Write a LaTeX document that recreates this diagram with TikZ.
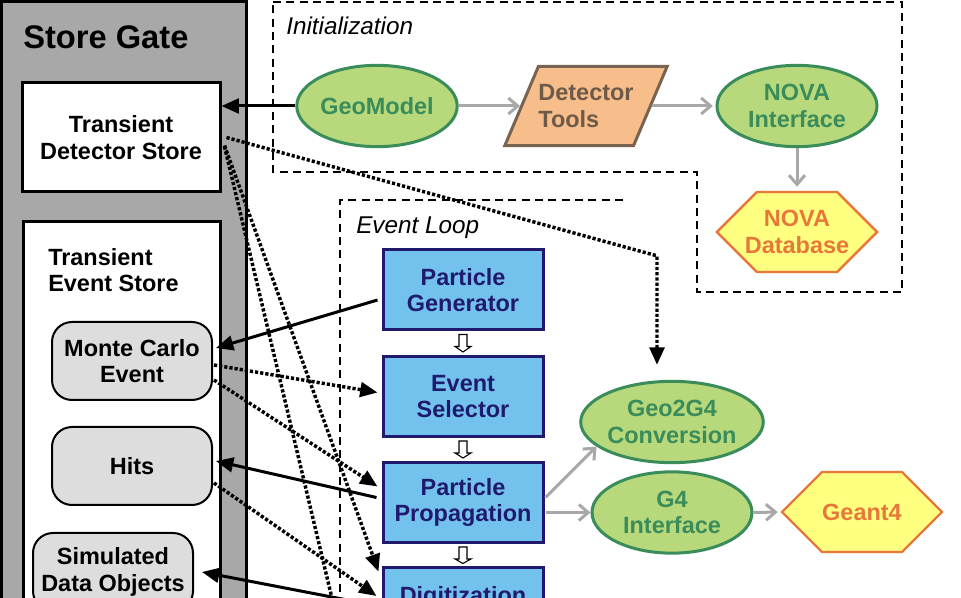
\documentclass[tikz,border=0pt]{standalone}
\usepackage{fontspec}
\setmainfont{Liberation Sans}
\usetikzlibrary{arrows.meta,calc,shapes.geometric,shapes.symbols}

\definecolor{bandgray}{RGB}{168,168,168}
\definecolor{itemgray}{RGB}{221,221,221}
\definecolor{skyblue}{RGB}{115,194,238}
\definecolor{navy}{RGB}{32,26,110}
\definecolor{leaf}{RGB}{183,217,123}
\definecolor{leafline}{RGB}{58,140,90}
\definecolor{peach}{RGB}{247,190,140}
\definecolor{toolline}{RGB}{120,100,80}
\definecolor{tooltext}{RGB}{110,90,72}
\definecolor{lemon}{RGB}{255,255,128}
\definecolor{amber}{RGB}{232,120,58}
\definecolor{flowgray}{RGB}{168,168,168}

\def\boxfont{\fontsize{17.6}{20}\selectfont\bfseries}
\def\titlefont{\fontsize{24.5}{28}\selectfont\bfseries}
\def\regionfont{\fontsize{18.2}{21}\selectfont\itshape}

% hollow block arrow between two stacked boxes
\newcommand{\hollowarrow}[2]{%
  \draw[line width=0.8pt, fill=white] ($(#1.south)+(-4,3)$) -- ++(0,12) -- ++(-4,0)
    -- ($(#2.north)+(0,-3)$) -- ($(#1.south)+(8,15)$) -- ++(-4,0) -- ++(0,-12) -- cycle;}

\begin{document}
\begin{tikzpicture}[x=0.75pt,y=0.75pt,yscale=-1,xscale=1,
  storebox/.style={draw=black, line width=2.25pt, fill=white, minimum width=148.5pt, minimum height=81.75pt, align=center, font=\boxfont},
  itembox/.style={draw=black, line width=1.5pt, fill=itemgray, rounded corners=15pt, minimum width=120pt, minimum height=58.5pt, align=center, font=\boxfont},
  algobox/.style={draw=navy, line width=2.25pt, fill=skyblue, text=navy, minimum width=120pt, minimum height=60pt, align=center, font=\boxfont},
  geonode/.style={ellipse, draw=leafline, line width=2.25pt, fill=leaf, text=leafline, minimum width=120pt, minimum height=61pt, inner sep=0pt, align=center, font=\boxfont},
  toolnode/.style={trapezium, trapezium left angle=67, trapezium right angle=113, draw=toolline, line width=2.25pt, fill=peach, text=tooltext, inner xsep=0pt, inner ysep=13.5pt, align=left, font=\boxfont},
  extnode/.style={signal, signal to=west and east, signal pointer angle=90, draw=amber, line width=1.8pt, fill=lemon, text=amber, minimum width=120pt, minimum height=60pt, inner xsep=-9pt, inner ysep=0pt, align=center, font=\boxfont},
  regionline/.style={line width=1.8pt, dash pattern=on 6pt off 4pt},
  solidarrow/.style={line width=2.25pt, -{Triangle[length=13pt,width=11pt]}},
  dotarrow/.style={line width=2.6pt, dash pattern=on 2.4pt off 1.5pt, -{Triangle[length=13pt,width=11pt]}},
  grayarrow/.style={draw=flowgray, line width=2.25pt, -{Straight Barb[length=7pt,width=12pt]}}]
\useasboundingbox (0,0) rectangle (961,598);
\clip (0,0) rectangle (961,598);

% store gate
\draw[line width=2.25pt, fill=bandgray] (1.5,1.5) rectangle (246,650);
\node[anchor=north west, inner sep=0pt, font=\titlefont] (sgtitle) at (23,25) {Store Gate};
\node[storebox] (tds) at (121,137.5) {Transient\\Detector Store};
\draw[line width=2.25pt, fill=white] (23,222) rectangle (220,650);
\node[anchor=north west, inner sep=0pt, align=left, font=\boxfont] (teslabel) at (48,248) {Transient\\Event Store};
\node[itembox] (mce) at (132,361) {Monte Carlo\\Event};
\node[itembox] (hits) at (132,466) {Hits};
\node[itembox] (sdo) at (113,572) {Simulated\\Data Objects};

% initialization
\draw[regionline] (273,2) -- (902,2) -- (902,292) -- (697,292) -- (697,172) -- (273,172) -- cycle;
\node[anchor=north west, inner sep=0pt, font=\regionfont] (initlabel) at (286,17) {Initialization};
\node[geonode] (geo) at (377,106) {GeoModel};
\node[toolnode] (dt) at (586,106) {Detector\\Tools};
\node[geonode] (nova) at (797,106) {NOVA\\Interface};
\node[extnode] (novadb) at (797,232) {NOVA\\Database};

% event loop
\draw[regionline] (623,200) -- (340,200) -- (340,650);
\node[anchor=north west, inner sep=0pt, font=\regionfont] (looplabel) at (356,217) {Event Loop};
\node[algobox] (pg) at (463,290) {Particle\\Generator};
\node[algobox] (es) at (463,396.5) {Event\\Selector};
\node[algobox] (pp) at (463,502.5) {Particle\\Propagation};
\node[algobox] (dig) at (463,608) {Digitization\\\mbox{}};
\hollowarrow{pg}{es}
\hollowarrow{es}{pp}
\hollowarrow{pp}{dig}

% geant4 side
\node[geonode] (g2g) at (672,422) {Geo2G4\\Conversion};
\node[geonode] (g4i) at (672,512.5) {G4\\Interface};
\node[extnode] (geant) at (862,512) {Geant4};
\coordinate (below) at (340,632);

% gray flow
\draw[grayarrow] (geo.east) -- (dt.left side);
\draw[grayarrow, shorten >=2pt] (dt.right side) -- (nova.west);
\draw[grayarrow, shorten >=3pt] (nova.south) -- (novadb.north);
\draw[grayarrow] ($(pp.east)+(1,-5)$) -- (g2g.198);
\draw[grayarrow] ($(pp.east)+(1,10)$) -- (g4i.west);
\draw[grayarrow, shorten >=2pt] (g4i.east) -- (geant.west);

% store access
\draw[solidarrow] (geo.west) -- (geo.west -| tds.east);
\draw[dotarrow] ($(tds.east)+(5,0)$) -- ($(g2g.north)+(-15,-124)$) -- ($(g2g.north)+(-15,-15)$);
\draw[dotarrow] ($(tds.east)+(3,8)$) -- ($(dig.north west)+(-3,5)$);
\draw[dotarrow] ($(tds.east)+(3,9)$) -- (below);
\draw[solidarrow] ($(pg.west)+(-4,10)$) -- ($(mce.east)+(3,-13)$);
\draw[dotarrow] ($(mce.east)+(1,4)$) -- ($(es.west)+(-4,-4)$);
\draw[dotarrow] ($(mce.east)+(1,19)$) -- ($(pp.west)+(-4,-16)$);
\draw[solidarrow] ($(pp.west)+(-5,-5)$) -- ($(hits.east)+(3,-5)$);
\draw[dotarrow] ($(hits.east)+(1,17)$) -- ($(dig.west)+(-5,-12)$);
\draw[solidarrow] ($(dig.west)+(-3,-2)$) -- ($(sdo.east)+(8,0)$);
\end{tikzpicture}
\end{document}
